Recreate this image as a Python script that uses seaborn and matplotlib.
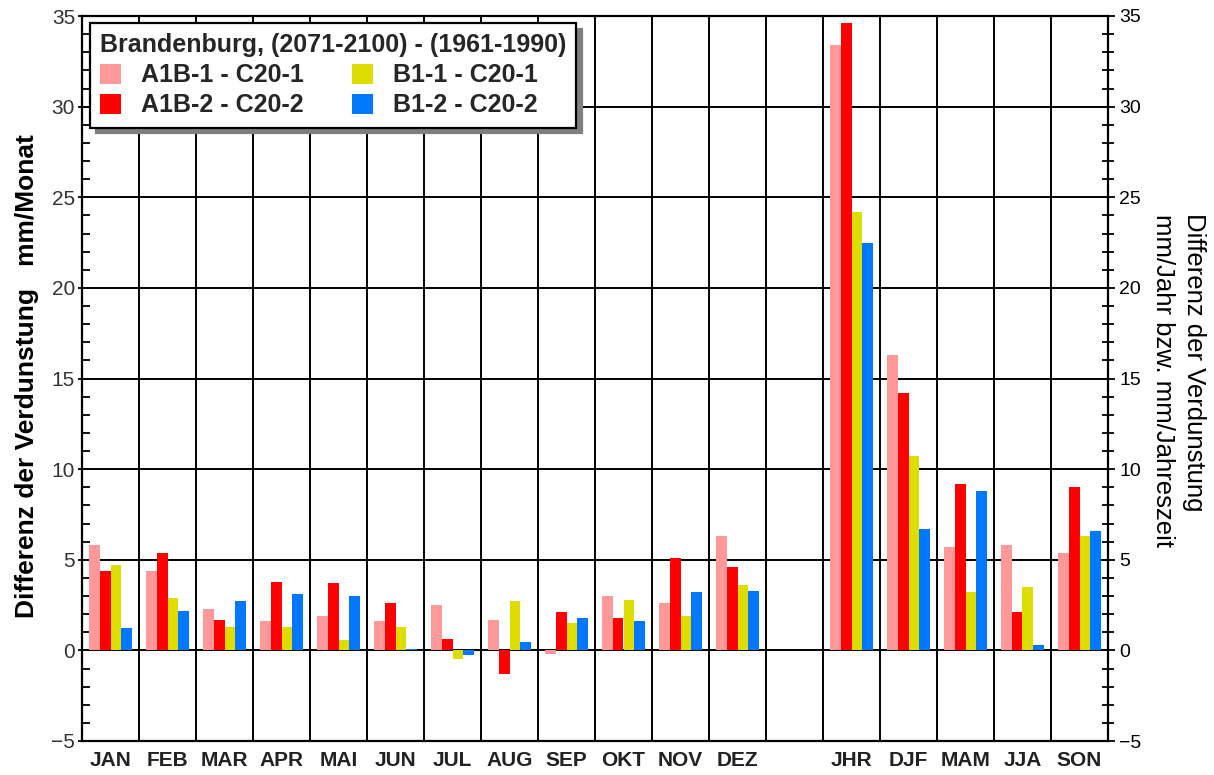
import numpy as np
import pandas as pd
import matplotlib
matplotlib.use("Agg")
import matplotlib.pyplot as plt
from matplotlib.ticker import MultipleLocator, FixedLocator
import seaborn as sns

# Kategorien: 12 Monate, eine leere Lücke, Jahr + Jahreszeiten
monate = ['JAN', 'FEB', 'MAR', 'APR', 'MAI', 'JUN', 'JUL', 'AUG', 'SEP', 'OKT', 'NOV', 'DEZ']
saisons = ['JHR', 'DJF', 'MAM', 'JJA', 'SON']
kategorien = monate + saisons
reihenfolge = monate + [' '] + saisons

szenarien = ['A1B-1 - C20-1', 'A1B-2 - C20-2', 'B1-1 - C20-1', 'B1-2 - C20-2']
farben = ['#FF9999', '#FF0000', '#DDDD00', '#0077FF']

a1b_1 = [5.8, 4.4, 2.3, 1.6, 1.9, 1.6, 2.5, 1.7, -0.2, 3.0, 2.6, 6.3,
         33.4, 16.3, 5.7, 5.8, 5.4]
a1b_2 = [4.4, 5.4, 1.7, 3.8, 3.7, 2.6, 0.65, -1.3, 2.1, 1.8, 5.1, 4.6,
         34.6, 14.2, 9.2, 2.1, 9.0]
b1_1 = [4.7, 2.9, 1.3, 1.3, 0.6, 1.3, -0.5, 2.7, 1.5, 2.8, 1.9, 3.6,
        24.2, 10.7, 3.2, 3.5, 6.3]
b1_2 = [1.25, 2.2, 2.7, 3.1, 3.0, 0.05, -0.25, 0.45, 1.8, 1.6, 3.2, 3.3,
        22.5, 6.7, 8.8, 0.3, 6.6]

df = pd.DataFrame({
    'kategorie': kategorien * 4,
    'szenario': np.repeat(szenarien, len(kategorien)),
    'wert': a1b_1 + a1b_2 + b1_1 + b1_2,
})

sns.set_theme(style='white')
plt.rcParams['font.family'] = ['Liberation Sans', 'DejaVu Sans']

fig, ax = plt.subplots(figsize=(12.14, 7.75), dpi=100)
fig.subplots_adjust(left=82/1214, right=1108/1214, top=1-16/775, bottom=1-741/775)

sns.barplot(data=df, x='kategorie', y='wert', hue='szenario', order=reihenfolge,
            hue_order=szenarien, palette=farben, saturation=1, width=0.76,
            linewidth=0, ax=ax)

n = len(reihenfolge)
ax.set_xlim(-0.5, n - 0.5)
ax.set_ylim(-5, 35)

# Gitter
ax.set_axisbelow(True)
ax.xaxis.set_minor_locator(FixedLocator(np.arange(0.5, n - 1, 1.0)))
ax.yaxis.set_major_locator(MultipleLocator(5))
ax.yaxis.set_minor_locator(MultipleLocator(1))
ax.grid(which='minor', axis='x', color='black', linewidth=1.4)
ax.grid(which='major', axis='y', color='black', linewidth=1.4)
ax.grid(which='major', axis='x', visible=False)

ax.tick_params(axis='x', which='both', length=0, pad=7, labelsize=15)
for t in ax.get_xticklabels():
    t.set_fontweight('bold')
    t.set_color('#222222')
ax.tick_params(axis='y', which='major', direction='out', length=3, width=1.3,
               labelsize=15, pad=2, colors='black', labelcolor='#333333')
ax.tick_params(axis='y', which='minor', direction='in', length=6, width=1.3,
               left=True, colors='black')
ax.set_xlabel('')
ax.set_ylabel('')
for s in ax.spines.values():
    s.set_color('black')
    s.set_linewidth(1.6)

# rechte Achse
ax2 = ax.twinx()
ax2.set_ylim(-5, 35)
ax2.yaxis.set_major_locator(MultipleLocator(5))
ax2.yaxis.set_minor_locator(MultipleLocator(1))
ax2.tick_params(axis='y', which='major', direction='out', length=5, width=1.3,
                labelsize=14, pad=3, colors='black')
ax2.tick_params(axis='y', which='minor', direction='inout', length=8, width=1.3,
                right=True, colors='black')
ax2.grid(False)
for s in ax2.spines.values():
    s.set_visible(False)

# Achsentitel
fig.text(27/1214, 1-376/775, 'Differenz der Verdunstung   mm/Monat', rotation=90,
         ha='center', va='center', fontsize=19, fontweight='bold', color='black')
fig.text(1194/1214, 1-362/775, 'Differenz der Verdunstung', rotation=270,
         ha='center', va='center', fontsize=18.5, color='black')
fig.text(1163/1214, 1-380/775, 'mm/Jahr bzw. mm/Jahreszeit', rotation=270,
         ha='center', va='center', fontsize=18.5, color='black')

# Legende
handles, labels = ax.get_legend_handles_labels()
if ax.get_legend() is not None:
    ax.get_legend().remove()
leg = ax.legend(handles, labels, ncol=2, loc='upper left',
                bbox_to_anchor=(8/1026, 1-7/725), borderaxespad=0,
                title='Brandenburg, (2071-2100) - (1961-1990)',
                title_fontproperties={'weight': 'bold', 'size': 18},
                prop={'weight': 'bold', 'size': 18}, alignment='left',
                frameon=True, fancybox=False, edgecolor='black', framealpha=1,
                shadow={'ox': 4, 'oy': -4, 'color': '#808080', 'alpha': 1},
                handlelength=0.85, handleheight=0.85, handletextpad=0.8,
                columnspacing=1.9, labelspacing=0.25, borderpad=0.4)
leg.get_frame().set_linewidth(1.6)
leg.set_zorder(10)

fig.savefig('out.png', dpi=100)
